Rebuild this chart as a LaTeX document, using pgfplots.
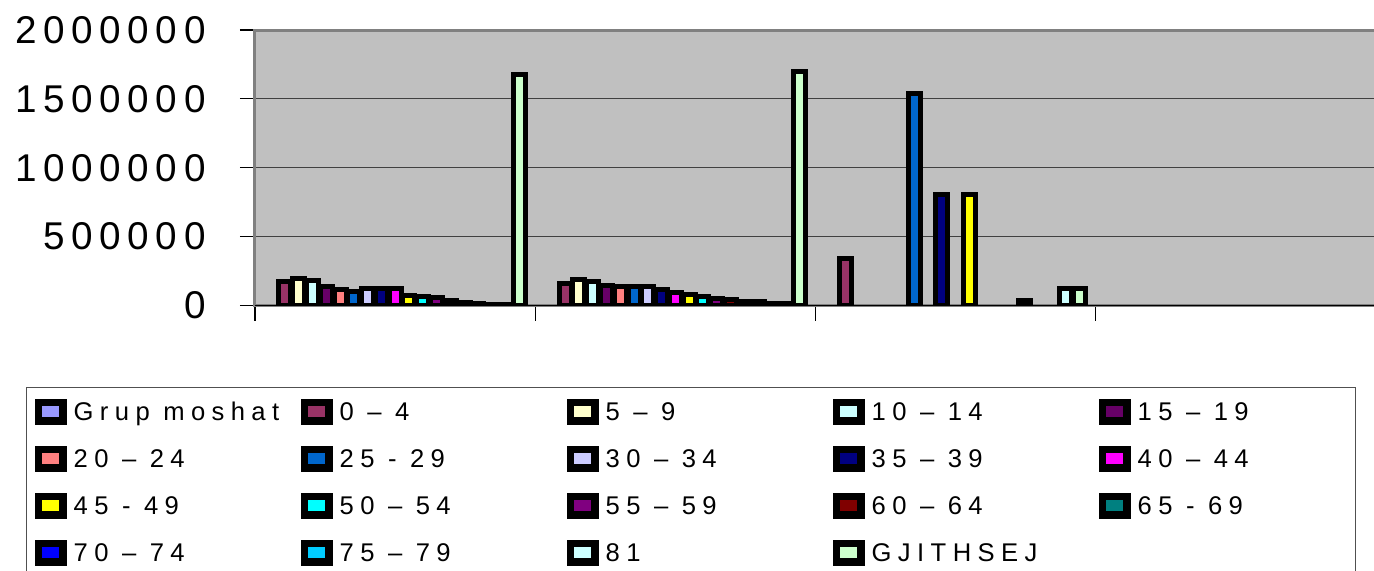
\documentclass[border=0pt]{standalone}
\usepackage{fontspec}
\setmainfont{Liberation Sans}
\newfontfamily\tickfont[LetterSpace=17]{Liberation Sans}
\newfontfamily\legfont[LetterSpace=25]{Liberation Sans}
\usepackage{pgfplots}
\pgfplotsset{compat=1.18}
\definecolor{plotgray}{HTML}{C0C0C0}
\definecolor{frame}{HTML}{808080}
\definecolor{legborder}{HTML}{505050}
\definecolor{cA}{HTML}{9999FF}
\definecolor{cB}{HTML}{993366}
\definecolor{cC}{HTML}{FFFFCC}
\definecolor{cD}{HTML}{CCFFFF}
\definecolor{cE}{HTML}{660066}
\definecolor{cF}{HTML}{FF8080}
\definecolor{cG}{HTML}{0066CC}
\definecolor{cH}{HTML}{CCCCFF}
\definecolor{cI}{HTML}{000080}
\definecolor{cJ}{HTML}{FF00FF}
\definecolor{cK}{HTML}{FFFF00}
\definecolor{cL}{HTML}{00FFFF}
\definecolor{cM}{HTML}{800080}
\definecolor{cN}{HTML}{800000}
\definecolor{cO}{HTML}{008080}
\definecolor{cP}{HTML}{0000FF}
\definecolor{cQ}{HTML}{00CCFF}
\definecolor{cR}{HTML}{CCFFFF}
\definecolor{cS}{HTML}{CCFFCC}
\pgfplotsset{
  mybar/.style={fill=#1, draw=black, line width=2.5pt,
    legend image code/.code={%
      \path (0pt,-5.25pt) rectangle (13.5pt,5.25pt);
      \draw[fill=#1, draw=black, line width=2.5pt] (1.25pt,-4pt) rectangle (12.25pt,4pt);}},
}
\newcommand\lentry[1]{\makebox[113.5pt][l]{#1}}
\newcommand\lentrylast[1]{\makebox[105pt][l]{#1}}
\begin{document}
\begin{tikzpicture}
\begin{axis}[
  at={(127.5pt,132.25pt)}, anchor=south west,
  scale only axis, width=560.5pt, height=137.75pt,
  xmin=-0.5, xmax=3.5, ymin=0, ymax=2000000,
  ybar, bar width=6pt,
  axis background/.style={fill=plotgray},
  axis line style={draw=frame, line width=1.5pt},
  xtick={-0.5,0.5,1.5,2.5,3.5}, xticklabels={,,,,},
  ytick={0,500000,1000000,1500000,2000000},
  scaled y ticks=false,
  tick pos=left,
  tick align=outside, major tick length=7.5pt,
  tick style={black, line width=0.6pt},
  ymajorgrids, grid style={black!75, line width=0.5pt},
  yticklabel style={font=\tickfont\fontsize{19.35}{22}\selectfont,
    /pgf/number format/fixed, /pgf/number format/1000 sep={},
    /pgf/number format/assume math mode=true, inner sep=0pt, anchor=east, xshift=-17pt},
  legend columns=5,
  legend cell align=left,
  legend style={at={(axis description cs:-0.2043,-0.2958)}, anchor=north west,
    draw=legborder, line width=0.7pt, fill=white, inner xsep=4pt, inner ysep=0.25pt,
    row sep=0pt, column sep=0pt, font=\legfont\fontsize{12.8}{15}\selectfont,
    nodes={inner sep=0pt, text height=9.2pt, text depth=0pt, minimum height=23.5pt},
    /tikz/every odd column/.append style={column sep=3.5pt}},
  after end axis/.code={\draw[black, line width=0.6pt] (rel axis cs:0,0) -- (rel axis cs:1,0);},
]
\addlegendimage{mybar=cA}\addlegendentry{\lentry{Grup moshat}}
\addplot[mybar=cB, bar shift=-55.12pt] coordinates {(0,172000) (1,162000) (2,338000)};
\addlegendentry{\lentry{0 – 4}}
\addplot[mybar=cC, bar shift=-48.23pt] coordinates {(0,196000) (1,187000)};
\addlegendentry{\lentry{5 – 9}}
\addplot[mybar=cD, bar shift=-41.34pt] coordinates {(0,180000) (1,172000)};
\addlegendentry{\lentry{10 – 14}}
\addplot[mybar=cE, bar shift=-34.45pt] coordinates {(0,138000) (1,148000)};
\addlegendentry{\lentrylast{15 – 19}}
\addplot[mybar=cF, bar shift=-27.56pt] coordinates {(0,114000) (1,136000)};
\addlegendentry{\lentry{20 – 24}}
\addplot[mybar=cG, bar shift=-20.67pt] coordinates {(0,102000) (1,136000) (2,1542000)};
\addlegendentry{\lentry{25 - 29}}
\addplot[mybar=cH, bar shift=-13.78pt] coordinates {(0,126000) (1,136000)};
\addlegendentry{\lentry{30 – 34}}
\addplot[mybar=cI, bar shift=-6.89pt] coordinates {(0,126000) (1,119000) (2,803000)};
\addlegendentry{\lentry{35 – 39}}
\addplot[mybar=cJ, bar shift=0pt] coordinates {(0,126000) (1,95000)};
\addlegendentry{\lentrylast{40 – 44}}
\addplot[mybar=cK, bar shift=6.89pt] coordinates {(0,70000) (1,78000) (2,803000)};
\addlegendentry{\lentry{45 - 49}}
\addplot[mybar=cL, bar shift=13.78pt] coordinates {(0,65000) (1,65000)};
\addlegendentry{\lentry{50 – 54}}
\addplot[mybar=cM, bar shift=20.67pt] coordinates {(0,58000) (1,53000)};
\addlegendentry{\lentry{55 – 59}}
\addplot[mybar=cN, bar shift=27.56pt] coordinates {(0,34000) (1,41000)};
\addlegendentry{\lentry{60 – 64}}
\addplot[mybar=cO, bar shift=34.45pt] coordinates {(0,22000) (1,31000) (2,40000)};
\addlegendentry{\lentrylast{65 - 69}}
\addplot[mybar=cP, bar shift=41.34pt] coordinates {(0,15000) (1,27000)};
\addlegendentry{\lentry{70 – 74}}
\addplot[mybar=cQ, bar shift=48.23pt] coordinates {(0,6000) (1,15000)};
\addlegendentry{\lentry{75 – 79}}
\addplot[mybar=cR, bar shift=55.12pt] coordinates {(0,4000) (1,14000) (2,127000)};
\addlegendentry{\lentry{81}}
\addplot[mybar=cS, bar shift=62.01pt] coordinates {(0,1675000) (1,1700000) (2,127000)};
\addlegendentry{\lentry{GJITHSEJ}}
\end{axis}
\pgfresetboundingbox
\path (0,0) rectangle (687pt,285pt);
\end{tikzpicture}
\end{document}
